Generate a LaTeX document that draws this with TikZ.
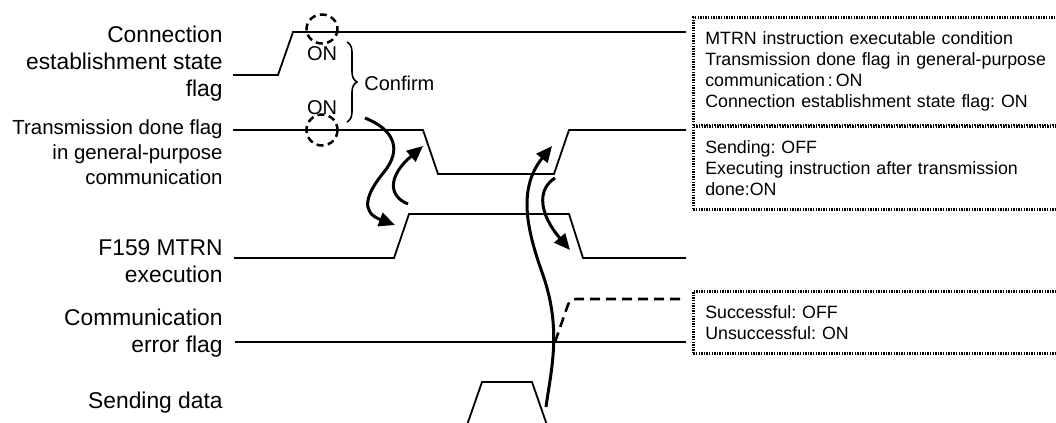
\documentclass[tikz,border=0pt]{standalone}
\usepackage{fontspec}
\setmainfont{Liberation Sans}
\usetikzlibrary{arrows.meta,decorations.pathreplacing}
\frenchspacing

\begin{document}
\begin{tikzpicture}[x=0.5pt, y=-0.5pt,
  lbl/.style={align=right, anchor=east, inner sep=0pt, font=\fontsize{11.4}{13.5}\selectfont},
  small/.style={inner sep=0pt, font=\fontsize{10}{12}\selectfont},
  note/.style={draw, line width=1.3pt, dash pattern=on 0.7pt off 0.6pt, anchor=north west, align=left,
    text width=190pt, inner xsep=6pt, inner ysep=7pt, font=\fontsize{8.9}{10.5}\selectfont},
  sig/.style={line width=0.9pt},
  chk/.style={line width=1.25pt, dash pattern=on 3.5pt off 2.2pt},
  flow/.style={-{Triangle[length=8pt, width=7pt]}, line width=1.5pt},
]
\useasboundingbox (0,0) rectangle (1056,423);

\node[lbl] (connlbl) at (223,64) {Connection\\establishment state\\flag};
\node[lbl, font=\fontsize{10.2}{12.5}\selectfont] (donelbl) at (223,152) {Transmission done flag\\in general-purpose\\communication};
\node[lbl] (mtrnlbl) at (223,261) {F159 MTRN\\execution};
\node[lbl] (errlbl) at (223,333) {Communication\\error flag};
\node[lbl] (sendlbl) at (223,403) {Sending data};

\draw[sig] (233,75) -- (278,75) -- (293,32) -- (686,32);
\draw[sig] (233,130) -- (423,130) -- (438,174) -- (554,174) -- (569,130) -- (686,130);
\draw[sig] (234,258) -- (394,258) -- (409,214) -- (569,214) -- (583,258) -- (686,258);
\draw[sig] (235,342) -- (686,342);
\draw[line width=1.3pt, dash pattern=on 5pt off 3pt, rounded corners=3pt] (555,342) -- (570,299) -- (686,299);
\draw[sig] (466,428) -- (482,382) -- (532,382) -- (548,428);

\draw[chk] (322,29) ellipse [x radius=15.5, y radius=14.5];
\draw[chk] (322,130) ellipse [x radius=15.5, y radius=15.5];
\node[small] (on1) at (322,54) {ON};
\node[small] (on2) at (322,108) {ON};
\draw[line width=0.8pt, decorate, decoration={brace, amplitude=5pt}] (347,42) -- (347,122);
\node[small, anchor=west] (confirm) at (364,83) {Confirm};

\node[note] (condbox) at (692,16) {MTRN instruction executable condition\\Transmission done flag in general-purpose\\communication\,:\,ON\\Connection establishment state flag: ON};
\node[note] (donebox) at (692,125) {Sending: OFF\\Executing instruction after transmission\\done:ON};
\node[note] (errbox) at (692,290) {Successful: OFF\\Unsuccessful: ON};

\coordinate (a1s) at (365,118);
\coordinate (a1e) at (395,225);
\coordinate (a2s) at (408,204);
\coordinate (a2e) at (423,146);
\coordinate (a3s) at (546,407);
\coordinate (a3e) at (552,146);
\coordinate (a4s) at (555,178);
\coordinate (a4e) at (570,250);
\draw[flow] (a1s) .. controls (395,130) and (402,150) .. (384,172) .. controls (366,194) and (360,212) .. (a1e);
\draw[flow] (a2s) .. controls (388,196) and (388,176) .. (a2e);
\draw[flow] (a3s) .. controls (551,370) and (562,330) .. (543,275) .. controls (526,228) and (518,188) .. (a3e);
\draw[flow] (a4s) .. controls (536,190) and (540,215) .. (a4e);
\end{tikzpicture}
\end{document}
